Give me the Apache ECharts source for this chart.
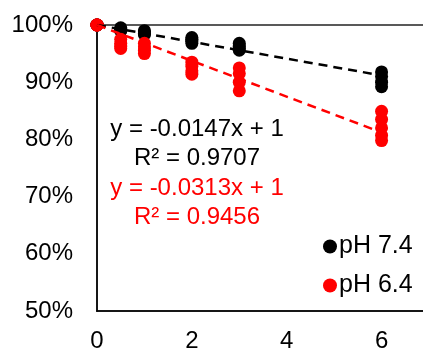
<!DOCTYPE html>
<html>
<head>
<meta charset="utf-8">
<script src="https://cdn.jsdelivr.net/npm/echarts@6/dist/echarts.min.js"></script>
<style>html,body{margin:0;padding:0;background:#fff}#c{width:423px;height:351px}</style>
</head>
<body>
<div id="c"></div>
<script>
var xTicks = [0, 2, 4, 6];
var yTicks = [0.5, 0.6, 0.7, 0.8, 0.9, 1.0];

var ph74X = [0,0,0,0, 0.5,0.5,0.5,0.5, 1,1,1,1, 2,2,2,2, 3,3,3,3, 6,6,6,6];
var ph74Y = [1,1,1,1, 0.995,0.993,0.990,0.990, 0.990,0.988,0.985,0.983, 0.978,0.975,0.972,0.968, 0.968,0.963,0.960,0.956, 0.918,0.910,0.900,0.892];

var ph64X = [0,0,0,0, 0.5,0.5,0.5,0.5, 1,1,1,1, 2,2,2,2, 3,3,3,3, 6,6,6,6,6];
var ph64Y = [1,1,1,1, 0.975,0.968,0.963,0.959, 0.968,0.962,0.956,0.950, 0.935,0.928,0.920,0.914, 0.925,0.915,0.900,0.885, 0.849,0.835,0.820,0.807,0.798];

var trend74 = [[0, 1], [6, 0.9118]];
var trend64 = [[0, 1], [6, 0.8122]];

var eq74 = ['y = -0.0147x + 1', 'R² = 0.9707'];
var eq64 = ['y = -0.0313x + 1', 'R² = 0.9456'];

function pairs(xs, ys){ return xs.map(function(x,i){ return [x, ys[i]]; }); }

var font = 'Liberation Sans, Arial, sans-serif';
var chart = echarts.init(document.getElementById('c'));
chart.setOption({
  animation: false,
  grid: {left: 97, top: 25, width: 332, height: 286, show: true, borderColor: '#595959', borderWidth: 2,
         outerBoundsMode: 'none', containLabel: false},
  xAxis: {
    type: 'value', min: 0, max: 7, interval: 2,
    axisLine: {show: true, onZero: false, lineStyle: {color: '#000', width: 1.5}},
    axisTick: {show: false}, splitLine: {show: false},
    axisLabel: {fontSize: 24, color: '#000', fontFamily: font, margin: 18,
      formatter: function(v){ return xTicks.indexOf(v) >= 0 ? String(v) : ''; }}
  },
  yAxis: {
    type: 'value', min: 0.5, max: 1.0, interval: 0.1,
    axisLine: {show: true, onZero: false, lineStyle: {color: '#000', width: 1.5}},
    axisTick: {show: false}, splitLine: {show: false},
    axisLabel: {fontSize: 24, color: '#000', fontFamily: font, margin: 24,
      formatter: function(v){ return Math.round(v*100) + '%'; }}
  },
  legend: {
    orient: 'vertical', left: 318, top: 229, itemGap: 14,
    icon: 'circle', itemWidth: 14, itemHeight: 14,
    textStyle: {fontSize: 25, color: '#000', fontFamily: font, padding: [0,0,0,-3]},
    data: ['pH 7.4', 'pH 6.4']
  },
  series: [
    {name: 'pH 7.4', type: 'scatter', symbolSize: 13, itemStyle: {color: '#000', opacity: 1}, data: pairs(ph74X, ph74Y), z: 2},
    {name: 'pH 6.4', type: 'scatter', symbolSize: 13, itemStyle: {color: '#ff0000', opacity: 1}, data: pairs(ph64X, ph64Y), z: 3},
    {type: 'line', data: trend74, symbol: 'none', z: 4, lineStyle: {color: '#000', width: 2.5, type: [9, 6]}},
    {type: 'line', data: trend64, symbol: 'none', z: 4, lineStyle: {color: '#ff0000', width: 2.5, type: [9, 6]}}
  ],
  graphic: [
    {type: 'text', x: 197, y: 129, style: {text: eq74[0], fill: '#000', font: '24px ' + font, textAlign: 'center', textVerticalAlign: 'middle'}},
    {type: 'text', x: 197, y: 158, style: {text: eq74[1], fill: '#000', font: '24px ' + font, textAlign: 'center', textVerticalAlign: 'middle'}},
    {type: 'text', x: 197, y: 188, style: {text: eq64[0], fill: '#ff0000', font: '24px ' + font, textAlign: 'center', textVerticalAlign: 'middle'}},
    {type: 'text', x: 197, y: 217, style: {text: eq64[1], fill: '#ff0000', font: '24px ' + font, textAlign: 'center', textVerticalAlign: 'middle'}}
  ]
});
</script>
</body>
</html>
